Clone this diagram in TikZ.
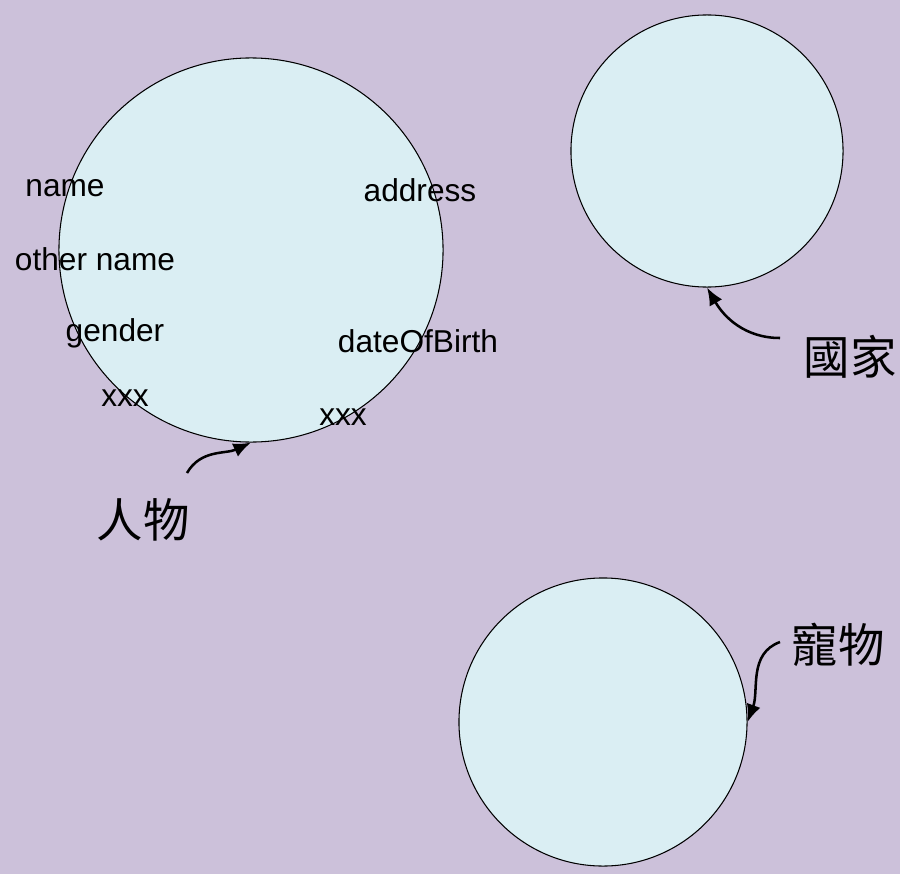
\documentclass[tikz,border=0pt]{standalone}
\usepackage{fontspec}
\setmainfont{Liberation Sans}
\newfontfamily\cjk{Noto Sans CJK TC}
\usetikzlibrary{arrows.meta}
\definecolor{lilac}{HTML}{CCC1DA}
\definecolor{icy}{HTML}{DAEEF3}

\begin{document}
\begin{tikzpicture}[x=0.025cm, y=-0.025cm,
        bubble/.style={draw, circle, fill=icy, line width=0.75pt, inner sep=0pt},
        field/.style={font=\fontsize{22.5}{27}\selectfont, inner sep=0pt},
        tag/.style={font=\cjk\fontsize{33}{40}\selectfont, inner sep=0pt},
        pointer/.style={-{Latex[length=4.4mm, width=3.6mm]}, line width=1.8pt}]
        % Background
        \fill[lilac] (0,0) rectangle (900,874);
        \useasboundingbox (0,0) rectangle (900,874);

        % Circles
        \node[bubble, minimum size=9.6cm] (person) at (251,250) {};
        \node[bubble, minimum size=6.8cm] (country) at (707,151) {};
        \node[bubble, minimum size=7.2cm] (pet) at (603,722) {};

        % Fields
        \node[field] (name) at (65,188) {name};
        \node[field] (othername) at (95,259) {other name};
        \node[field] (gender) at (115,333) {gender};
        \node[field] (xxxa) at (125,398) {xxx};
        \node[field] (address) at (420,190) {address};
        \node[field] (birth) at (418,341) {dateOfBirth};
        \node[field] (xxxb) at (343,417) {xxx};

        % Labels
        \node[tag] (personlabel) at (143,520) {人物};
        \node[tag] (countrylabel) at (850,357) {國家};
        \node[tag] (petlabel) at (838,645) {寵物};

        % Arrows
        \coordinate (personTail) at (187,473);
        \coordinate (countryTail) at (780,338);
        \coordinate (petTail) at (780,642);
        \draw[pointer] (personTail) to[out=60, in=205] (person.south);
        \draw[pointer] (countryTail) to[out=180, in=-60] (country.south);
        \draw[pointer] (petTail) to[out=200, in=70] (pet.east);
    \end{tikzpicture}
\end{document}
